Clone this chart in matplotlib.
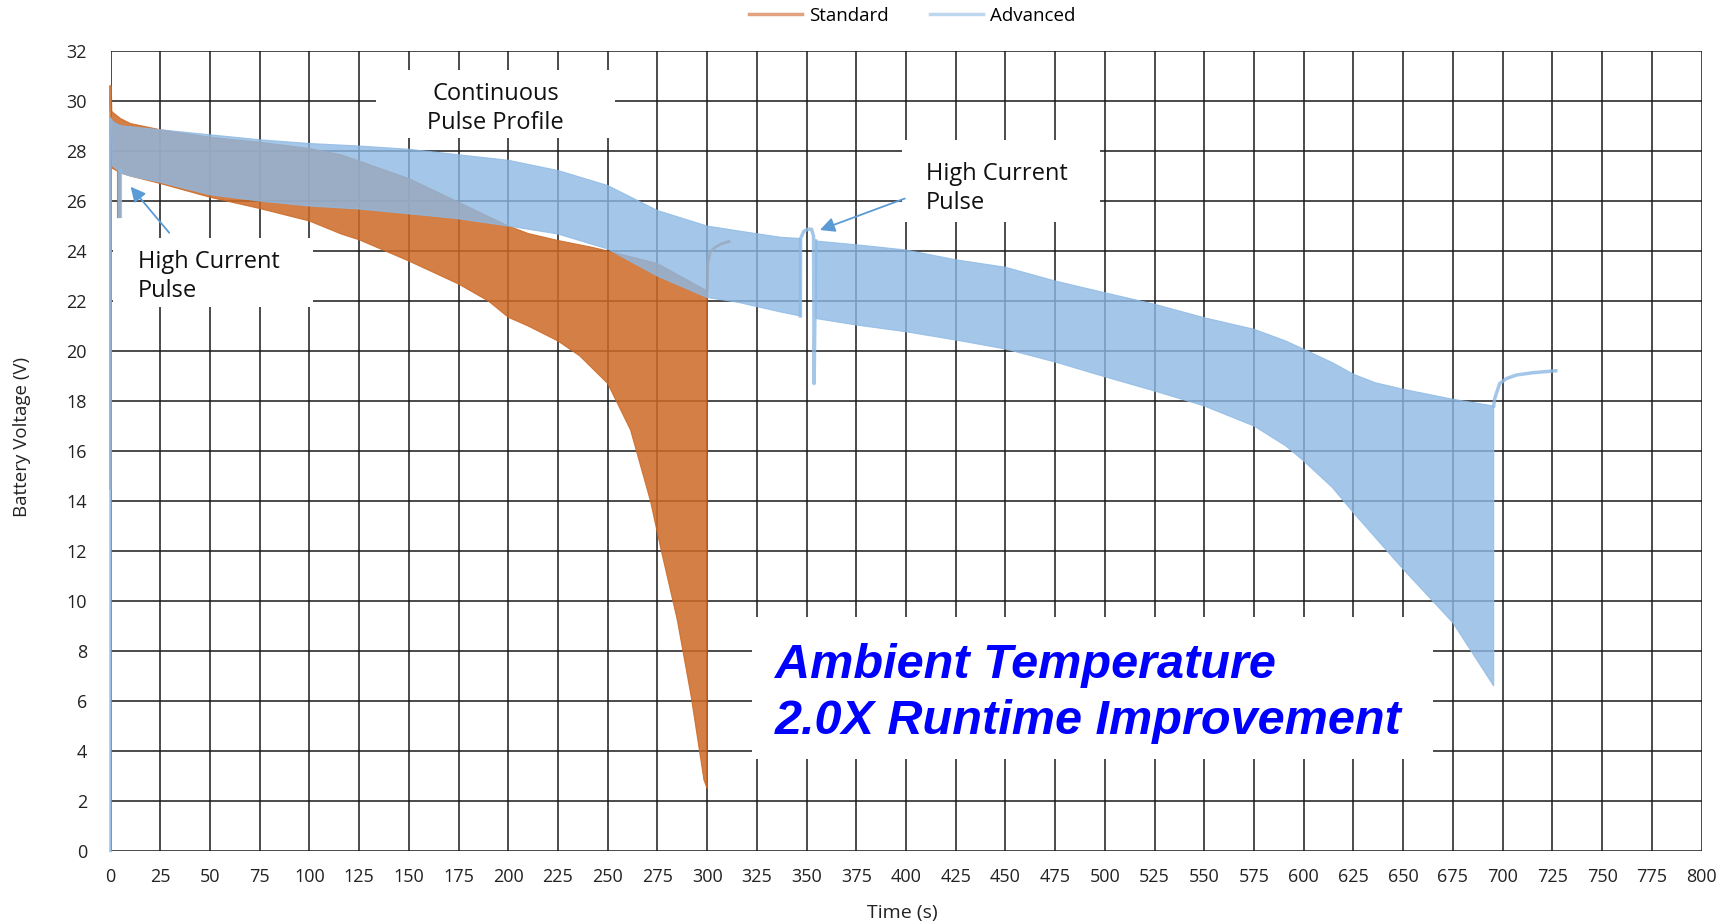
import numpy as np
import matplotlib
matplotlib.use("Agg")
import matplotlib.pyplot as plt
from matplotlib.patches import Rectangle, Polygon
from matplotlib.lines import Line2D

plt.rcParams['font.family'] = ['Open Sans', 'DejaVu Sans']

# --- data (time in s, voltage in V) ---
# Standard: envelope of the pulse band
std_top_t = [0.3, 5, 10, 25, 50, 75, 100, 116, 150, 175, 200, 210, 225, 242, 250, 275, 300]
std_top_v = [29.6, 29.3, 29.1, 28.85, 28.55, 28.35, 28.1, 27.85, 26.9, 25.95, 25.0, 24.7,
             24.42, 24.15, 24.0, 23.5, 22.4]
std_bot_t = [0.3, 1, 6, 10, 25, 50, 75, 100, 116, 125, 150, 175, 190, 200, 210, 225, 236,
             250, 261.5, 271.5, 276.5, 285, 292, 298.4, 300]
std_bot_v = [29.6, 27.3, 27.1, 27.0, 26.7, 26.15, 25.7, 25.2, 24.68, 24.45, 23.6, 22.68,
             22.0, 21.35, 21.0, 20.4, 19.8, 18.7, 16.84, 14.0, 12.17, 9.24, 6.17, 2.84, 2.5]
std_start_t = [0, 0, 0.3]
std_start_v = [14.5, 30.6, 29.6]
std_pulse_t = [4.5, 4.5]
std_pulse_v = [27.2, 25.4]
std_rec_t = [300, 300.3, 301.5, 304, 307, 311]
std_rec_v = [22.4, 23.5, 23.95, 24.15, 24.28, 24.38]

# Advanced: band before and after the mid-run high current pulse
adv_top_t1 = [0.5, 4, 6, 25, 50, 75, 100, 125, 150, 175, 200, 225, 250, 275, 300, 316, 337, 346.9]
adv_top_v1 = [29.2, 29.05, 29.0, 28.85, 28.65, 28.45, 28.3, 28.2, 28.07, 27.85, 27.63, 27.22,
              26.62, 25.62, 25.0, 24.8, 24.55, 24.5]
adv_bot_t1 = [0.5, 1, 6, 10, 25, 50, 75, 100, 125, 150, 175, 200, 225, 250, 275, 300, 316, 337, 346.9]
adv_bot_v1 = [29.2, 27.4, 27.1, 27.0, 26.75, 26.25, 26.0, 25.8, 25.68, 25.49, 25.29, 25.0,
              24.68, 24.08, 23.0, 22.14, 21.94, 21.56, 21.4]
adv_top_t2 = [354.6, 375, 400, 425, 450, 475, 500, 525, 550, 575, 591, 600, 614.5, 625, 636,
              650, 675, 695.5]
adv_top_v2 = [24.4, 24.25, 24.04, 23.65, 23.35, 22.8, 22.33, 21.87, 21.33, 20.87, 20.4, 20.07,
              19.53, 19.07, 18.73, 18.47, 18.07, 17.8]
adv_bot_t2 = [354.6, 375, 400, 425, 450, 475, 500, 525, 550, 575, 591, 600, 614.5, 625, 650,
              675, 695.5]
adv_bot_v2 = [21.3, 21.04, 20.77, 20.44, 20.08, 19.56, 18.97, 18.4, 17.8, 17.0, 16.2, 15.6,
              14.53, 13.53, 11.27, 9.13, 6.6]
adv_start_t = [0, 0, 0.5]
adv_start_v = [0, 29.3, 29.2]
adv_pulse0_t = [4.6, 4.6]
adv_pulse0_v = [27.2, 25.4]
adv_pulse_t = [346.9, 347.0, 348.5, 350.5, 352.5, 353.5, 353.8, 354.6]
adv_pulse_v = [21.4, 24.5, 24.78, 24.87, 24.87, 24.6, 18.7, 24.4]
adv_rec_t = [695.5, 696, 698.5, 702, 707, 715, 726.7]
adv_rec_v = [17.8, 18.1, 18.7, 18.9, 19.04, 19.13, 19.21]

x_ticks = list(range(0, 801, 25))
y_ticks = list(range(0, 33, 2))

std_color = '#CC6925'
adv_color = '#8DB9E4'

fig = plt.figure(figsize=(17.35, 9.24), dpi=100)
ax = fig.add_axes([0.0637, 0.079, 0.917, 0.8658])


def band(t_top, v_top, t_bot, v_bot):
    pts = list(zip(t_top, v_top)) + list(zip(t_bot[::-1], v_bot[::-1]))
    return np.array(pts)


# Standard
ax.add_patch(Polygon(band(std_top_t, std_top_v, std_bot_t, std_bot_v), closed=True,
                     facecolor=std_color, edgecolor=std_color, lw=0.8, alpha=0.85, zorder=2))
ax.plot(std_start_t, std_start_v, color=std_color, lw=1.8, alpha=0.85, zorder=2, clip_on=False)
ax.plot(std_pulse_t, std_pulse_v, color=std_color, lw=3, alpha=0.85, zorder=2)
ax.plot(std_rec_t, std_rec_v, color=std_color, lw=2, alpha=0.85, zorder=2)

# Advanced
ax.add_patch(Polygon(band(adv_top_t1, adv_top_v1, adv_bot_t1, adv_bot_v1), closed=True,
                     facecolor=adv_color, edgecolor=adv_color, lw=0.8, alpha=0.8, zorder=3))
ax.add_patch(Polygon(band(adv_top_t2, adv_top_v2, adv_bot_t2, adv_bot_v2), closed=True,
                     facecolor=adv_color, edgecolor=adv_color, lw=0.8, alpha=0.8, zorder=3))
ax.plot(adv_start_t, adv_start_v, color=adv_color, lw=1.8, alpha=0.9, zorder=3, clip_on=False)
ax.plot(adv_pulse0_t, adv_pulse0_v, color=adv_color, lw=3, alpha=0.8, zorder=3)
ax.plot(adv_pulse_t, adv_pulse_v, color=adv_color, lw=2.5, alpha=0.8, zorder=3)
ax.plot(adv_rec_t, adv_rec_v, color=adv_color, lw=2.5, alpha=0.8, zorder=3)

ax.set_xlim(0, 800)
ax.set_ylim(0, 32)
ax.set_xticks(x_ticks)
ax.set_yticks(y_ticks)
ax.tick_params(length=0, labelsize=13, colors='#222222')
ax.tick_params(axis='y', pad=17)
ax.tick_params(axis='x', pad=12)
ax.set_axisbelow(True)
ax.grid(True, color='#1a1a1a', lw=1.1)
for s in ax.spines.values():
    s.set_visible(False)

# white boxes behind the annotations
boxes = [(133.6, 28.52, 120.0, 2.72),
         (1.2, 21.76, 100.6, 2.76),
         (397.8, 25.16, 99.6, 3.28),
         (322.4, 3.68, 342.5, 5.68)]
for x0, y0, w, h in boxes:
    ax.add_patch(Rectangle((x0, y0), w, h, facecolor='white', edgecolor='none', zorder=1))

ax.text(193.7, 29.7, 'Continuous\nPulse Profile', ha='center', va='center', fontsize=17,
        linespacing=1.3, color='#111111', zorder=5)
ax.text(13.9, 22.97, 'High Current\nPulse', ha='left', va='center', fontsize=17,
        linespacing=1.3, color='#111111', zorder=5)
ax.text(410, 26.5, 'High Current\nPulse', ha='left', va='center', fontsize=17,
        linespacing=1.3, color='#111111', zorder=5)
ax.text(334, 6.3, 'Ambient Temperature\n2.0X Runtime Improvement', ha='left', va='center',
        fontsize=35, fontweight='bold', fontstyle='italic', family='Liberation Sans',
        color='#0000FF', linespacing=1.32, zorder=5)

arrow = dict(arrowstyle='-|>', color='#5B9BD5', lw=1.3, mutation_scale=22, shrinkA=0, shrinkB=0)
ax.annotate('', xy=(10.1, 26.57), xytext=(29.5, 24.73), arrowprops=arrow, zorder=5)
ax.annotate('', xy=(356.7, 24.84), xytext=(399.4, 26.1), arrowprops=arrow, zorder=5)

fig.text(902 / 1735, 1 - 913 / 924, 'Time (s)', ha='center', va='center', fontsize=14,
         color='#222222')
fig.text(22 / 1735, 1 - 437 / 924, 'Battery Voltage (V)', ha='center', va='center',
         fontsize=13.5, rotation=90, color='#222222')

handles = [Line2D([], [], color='#E3A27E', lw=2.5), Line2D([], [], color='#BDD7EE', lw=2.5)]
fig.legend(handles, ['Standard', 'Advanced'], loc='center', bbox_to_anchor=(0.526, 0.983),
           ncol=2, frameon=False, fontsize=13.5, handlelength=2.8, handletextpad=0.4,
           columnspacing=2.2)

fig.savefig('out.png', dpi=100)
